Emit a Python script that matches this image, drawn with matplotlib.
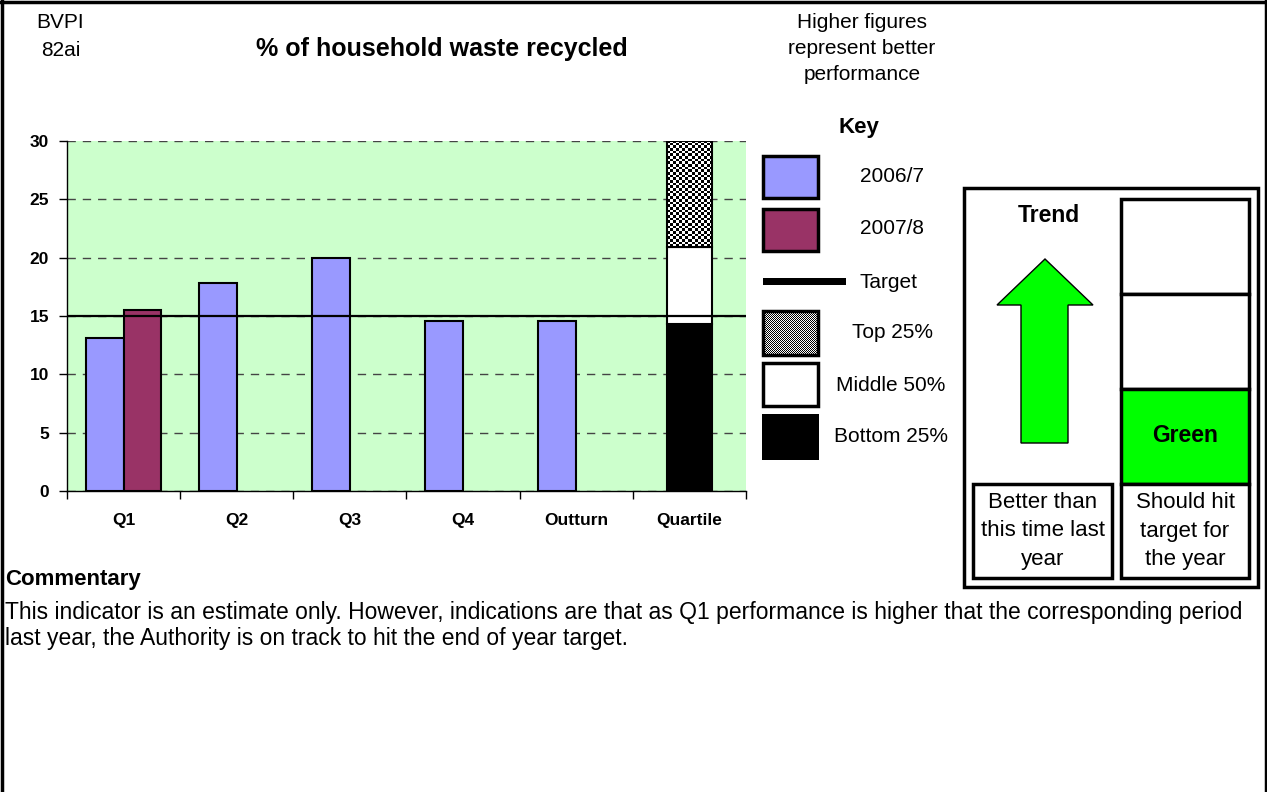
import numpy as np
import matplotlib
matplotlib.use("Agg")
import matplotlib.pyplot as plt
from matplotlib.patches import Rectangle, Polygon
from matplotlib.lines import Line2D

plt.rcParams['font.family'] = ['Liberation Sans', 'DejaVu Sans']

# data
categories = ["Q1", "Q2", "Q3", "Q4", "Outturn", "Quartile"]
values_0607 = [13.1, 17.8, 20.0, 14.6, 14.6]
values_0708 = [15.5]
target = 15
quartile_bottom = 14.3   # top of bottom 25%
quartile_middle = 20.9   # top of middle 50%
quartile_top = 30.0      # top of top 25%
y_ticks = [0, 5, 10, 15, 20, 25, 30]

BLUE = "#9999FF"
MAROON = "#993366"
BG = "#CCFFCC"
LIME = "#00FF00"

W, H = 1267, 792
fig = plt.figure(figsize=(W / 100, H / 100), dpi=100)


def fx(x):
    return x / W


def fy(y):
    return 1 - y / H


def rect(x0, y0, x1, y1, **kw):
    r = Rectangle((fx(x0), fy(y1)), fx(x1) - fx(x0), fy(y0) - fy(y1),
                  transform=fig.transFigure, **kw)
    fig.add_artist(r)
    return r


def text(x, y, s, **kw):
    kw.setdefault("ha", "center")
    kw.setdefault("va", "center")
    kw.setdefault("fontsize", 15)
    fig.text(fx(x), fy(y), s, **kw)


# page border
for xs, ys in [((1.5, 1.5), (0, 792)), ((0, 1267), (1.5, 1.5)), ((1265.5, 1265.5), (0, 792))]:
    fig.add_artist(Line2D([fx(v) for v in xs], [fy(v) for v in ys],
                          transform=fig.transFigure, color="black", lw=2.5))

# ---- chart ----
ax = fig.add_axes([fx(67), fy(491), fx(746) - fx(67), fy(141) - fy(491)])
ax.set_facecolor(BG)
x = np.arange(len(categories))
bw = 0.335
ax.bar(x[:len(values_0607)] - bw / 2, values_0607, bw, color=BLUE,
       edgecolor="black", lw=1.5, zorder=3)
ax.bar(x[:len(values_0708)] + bw / 2, values_0708, bw, color=MAROON,
       edgecolor="black", lw=1.5, zorder=3)

qx = x[-1]
qw = 0.4
ax.bar(qx, quartile_bottom, qw, color="black", edgecolor="black", lw=1.5, zorder=3)
ax.bar(qx, quartile_middle - quartile_bottom, qw, bottom=quartile_bottom,
       color="white", edgecolor="black", lw=1.5, zorder=3)
top_bar = ax.bar(qx, quartile_top - quartile_middle, qw, bottom=quartile_middle,
                 color="white", edgecolor="black", lw=1.5, zorder=4)[0]
# checkerboard fill for top 25%
bx0, by0 = top_bar.get_x(), top_bar.get_y()
bx1, by1 = bx0 + top_bar.get_width(), by0 + top_bar.get_height()
cb = np.indices((40, 15)).sum(axis=0) % 2
im = ax.imshow(cb, cmap="gray", extent=(bx0, bx1, by0, by1), aspect="auto",
               interpolation="nearest", zorder=3.5)
im.set_clip_path(top_bar)
top_bar.set_facecolor("none")

ax.axhline(target, color="black", lw=1.6, zorder=5)

ax.set_xlim(-0.5, len(categories) - 0.5)
ax.set_ylim(0, 30)
ax.set_yticks(y_ticks)
ax.set_yticklabels([str(v) for v in y_ticks], fontweight="bold", fontsize=12.5)
ax.yaxis.grid(True, ls=(0, (6, 5)), color="#444444", lw=1, zorder=1)
ax.set_xticks(x)
ax.set_xticklabels(categories, fontweight="bold", fontsize=12.5)
ax.tick_params(axis="x", length=0, pad=16)
ax.set_xticks(np.arange(-0.5, len(categories)), minor=True)
ax.tick_params(axis="x", which="minor", length=6, width=1, color="black")
ax.tick_params(axis="y", length=6, width=1, pad=7)
for s in ["top", "right"]:
    ax.spines[s].set_visible(False)
for s in ["left", "bottom"]:
    ax.spines[s].set_linewidth(1)

# ---- header texts ----
text(60, 22, "BVPI")
text(61, 51, "82ai")
text(442, 49, "% of household waste recycled", fontsize=18, fontweight="bold")
text(862, 22, "Higher figures")
text(862, 48, "represent better")
text(862, 74, "performance")

# ---- key ----
text(859, 127, "Key", fontsize=16, fontweight="bold")
rect(763, 156, 818, 198, facecolor=BLUE, edgecolor="black", lw=2.5)
text(892, 177, "2006/7")
rect(763, 209, 818, 251, facecolor=MAROON, edgecolor="black", lw=2.5)
text(892, 229, "2007/8")
rect(763, 278, 846, 285, facecolor="black", edgecolor="none")
text(859, 282, "Target", ha="left")
rect(763, 311, 818, 355, facecolor="none", edgecolor="black", lw=2.5, zorder=3)
fig.figimage(np.indices((44, 55)).sum(axis=0) % 2, xo=763, yo=H - 355,
             cmap="gray", zorder=2)
text(892, 333, "Top 25%")
rect(763, 363, 818, 406, facecolor="white", edgecolor="black", lw=2.5)
text(891, 385, "Middle 50%")
rect(762, 414, 819, 460, facecolor="black", edgecolor="none")
text(891, 437, "Bottom 25%")

# ---- trend / status panel ----
rect(964, 188, 1258, 587, facecolor="white", edgecolor="black", lw=2.5)
text(1049, 216, "Trend", fontsize=16.5, fontweight="bold")
arrow = [(1045, 259), (1093, 305), (1068, 305), (1068, 443), (1021, 443),
         (1021, 305), (997, 305)]
fig.add_artist(Polygon([(fx(a), fy(b)) for a, b in arrow], closed=True,
                       transform=fig.transFigure, facecolor=LIME,
                       edgecolor="black", lw=1))
rect(1121, 199, 1249, 294, facecolor="white", edgecolor="black", lw=2.5)
rect(1121, 294, 1249, 389, facecolor="white", edgecolor="black", lw=2.5)
rect(1121, 389, 1249, 484, facecolor=LIME, edgecolor="black", lw=2.5)
text(1185, 436, "Green", fontsize=16.5, fontweight="bold")
rect(1121, 484, 1249, 578, facecolor="white", edgecolor="black", lw=2.5)
text(1185, 502, "Should hit", fontsize=16)
text(1185, 531, "target for", fontsize=16)
text(1185, 560, "the year", fontsize=16)
rect(973, 484, 1112, 578, facecolor="white", edgecolor="black", lw=2.5)
text(1043, 502, "Better than", fontsize=16)
text(1043, 531, "this time last", fontsize=16)
text(1043, 560, "year", fontsize=16)

# ---- commentary ----
text(5, 580, "Commentary", ha="left", fontsize=16, fontweight="bold")
text(5, 613, "This indicator is an estimate only. However, indications are that as Q1 "
     "performance is higher that the corresponding period", ha="left", fontsize=16.5)
text(5, 639, "last year, the Authority is on track to hit the end of year target.",
     ha="left", fontsize=16.5)

fig.savefig("out.png", dpi=100)
